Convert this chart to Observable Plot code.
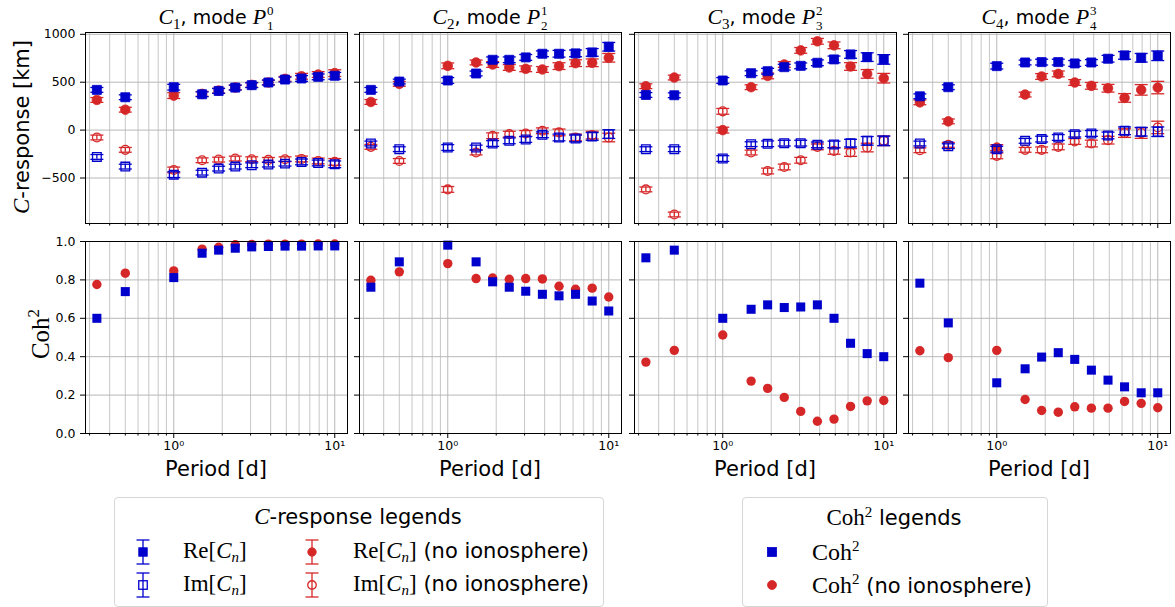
<!DOCTYPE html>
<html><head><meta charset="utf-8">
<script src="https://cdn.jsdelivr.net/npm/d3@7"></script>
<script src="https://cdn.jsdelivr.net/npm/@observablehq/plot@0.6"></script>
<style>
body{margin:0;background:#fff;}
#fig{position:relative;width:1175px;height:607px;overflow:hidden;font-family:"DejaVu Sans",sans-serif;color:#000;background:#fff;}
.abs{position:absolute;white-space:nowrap;}
.m{font-family:"Liberation Serif","Times New Roman",serif;}
.it{font-style:italic;}
.sub{font-family:"Liberation Serif",serif;font-size:15px;vertical-align:-5px;}
.ss{display:inline-block;vertical-align:-6px;font-family:"Liberation Serif",serif;font-size:13px;line-height:15px;margin-left:1px;}
.ss span{display:block;}
.title{font-size:19px;line-height:24px;text-align:center;width:262px;}
.title .m{font-size:22px;}
.lgbox{border:1px solid #d6d6d6;border-radius:4px;box-sizing:border-box;}
.lgt{font-size:21px;}
.lge{font-size:21px;}
.lge .m{font-size:23px;}
</style></head><body><div id="fig"></div>
<script>
// ---------------- data ----------------
const periods = [0.333, 0.5, 1, 1.5, 1.9, 2.41, 3.05, 3.87, 4.91, 6.22, 7.89, 10];
const titleIndex = ["1", "2", "3", "4"];
const modeOrder = ["0", "1", "2", "3"];
const xMajorTicks = [1, 10];
const xMajorLabels = ["10⁰", "10¹"];
const xMinorTicks = [0.3, 0.4, 0.5, 0.6, 0.7, 0.8, 0.9, 2, 3, 4, 5, 6, 7, 8, 9];
const yTicksC = [-500, 0, 500, 1000];
const yTicksCoh = [0, 0.2, 0.4, 0.6, 0.8, 1.0];

const reC1 = [420, 343, 448, 374, 409, 444, 469, 497, 528, 539, 556, 567];
const reC1NoIono = [315, 213, 360, 378, 412, 445, 472, 497, 535, 562, 580, 595];
const imC1 = [-280, -381, -465, -444, -402, -381, -367, -360, -350, -332, -343, -357];
const imC1NoIono = [-77, -206, -416, -315, -308, -297, -304, -311, -304, -301, -322, -332];
const errC1 = [25, 25, 30, 25, 25, 25, 25, 25, 25, 30, 30, 35];
const errC1NoIono = [25, 25, 30, 25, 25, 25, 25, 25, 25, 30, 30, 35];

const reC2 = [420, 507, 518, 591, 734, 734, 759, 797, 797, 801, 811, 870];
const reC2NoIono = [294, 483, 671, 706, 685, 654, 640, 633, 668, 699, 703, 755];
const imC2 = [-140, -199, -182, -182, -140, -112, -98, -49, -77, -87, -66, -42];
const imC2NoIono = [-175, -322, -619, -234, -59, -42, -35, -7, -24, -77, -52, -77];
const errC2 = [25, 25, 30, 25, 30, 30, 30, 30, 35, 35, 40, 45];
const errC2NoIono = [25, 25, 30, 25, 30, 30, 30, 30, 35, 35, 40, 45];

const reC3 = [367, 364, 518, 594, 615, 657, 671, 703, 738, 790, 762, 738];
const reC3NoIono = [458, 549, 0, 448, 566, 685, 832, 927, 885, 664, 587, 542];
const imC3 = [-199, -199, -297, -147, -143, -136, -136, -154, -150, -136, -112, -112];
const imC3NoIono = [-619, -881, 196, -234, -427, -385, -315, -175, -217, -234, -182, -112];
const errC3 = [25, 25, 30, 25, 30, 30, 30, 30, 35, 40, 45, 50];
const errC3NoIono = [25, 25, 30, 25, 30, 30, 30, 30, 35, 40, 45, 50];

const reC4 = [353, 448, 668, 706, 710, 710, 696, 706, 745, 780, 755, 776];
const reC4NoIono = [290, 91, -182, 371, 560, 587, 497, 462, 437, 336, 420, 444];
const imC4 = [-140, -168, -199, -112, -94, -77, -42, -35, -56, -7, -17, -17];
const imC4NoIono = [-210, -154, -269, -206, -206, -175, -119, -140, -105, -31, -31, 28];
const errC4 = [25, 25, 30, 25, 30, 30, 30, 30, 35, 40, 45, 50];
const errC4NoIono = [25, 25, 30, 25, 30, 30, 30, 35, 40, 45, 55, 65];

const cohC1 = [0.600, 0.739, 0.812, 0.939, 0.955, 0.965, 0.972, 0.974, 0.976, 0.976, 0.977, 0.977];
const cohC1NoIono = [0.776, 0.835, 0.847, 0.960, 0.970, 0.983, 0.985, 0.986, 0.986, 0.986, 0.987, 0.987];
const cohC2 = [0.762, 0.894, 0.981, 0.894, 0.790, 0.762, 0.741, 0.725, 0.717, 0.725, 0.690, 0.638];
const cohC2NoIono = [0.798, 0.842, 0.885, 0.807, 0.810, 0.803, 0.807, 0.805, 0.767, 0.751, 0.757, 0.711];
const cohC3 = [0.915, 0.955, 0.600, 0.647, 0.670, 0.656, 0.659, 0.670, 0.600, 0.470, 0.416, 0.400];
const cohC3NoIono = [0.372, 0.433, 0.513, 0.273, 0.235, 0.188, 0.115, 0.064, 0.075, 0.141, 0.170, 0.172];
const cohC4 = [0.783, 0.576, 0.264, 0.337, 0.398, 0.421, 0.386, 0.330, 0.278, 0.243, 0.212, 0.212];
const cohC4NoIono = [0.431, 0.395, 0.433, 0.177, 0.120, 0.111, 0.139, 0.132, 0.132, 0.167, 0.157, 0.134];

const reAll = [reC1, reC2, reC3, reC4];
const reNoAll = [reC1NoIono, reC2NoIono, reC3NoIono, reC4NoIono];
const imAll = [imC1, imC2, imC3, imC4];
const imNoAll = [imC1NoIono, imC2NoIono, imC3NoIono, imC4NoIono];
const errAll = [errC1, errC2, errC3, errC4];
const errNoAll = [errC1NoIono, errC2NoIono, errC3NoIono, errC4NoIono];
const cohAll = [cohC1, cohC2, cohC3, cohC4];
const cohNoAll = [cohC1NoIono, cohC2NoIono, cohC3NoIono, cohC4NoIono];

// ---------------- style / layout ----------------
const BLUE = "#0000cc";
const RED = "#d62728";
const GRID = "#c6c6c6";
const fig = document.getElementById("fig");
const PW = 262;
const lefts = [85, 359, 634, 908];
const ML = 50, MR = 10, MT = 8, MB = 32;
const rowTop = [31.7, 240.5];
const rowH = [191, 192];
const capSym = {draw(ctx) { ctx.moveTo(-6.5, 0); ctx.lineTo(6.5, 0); }};
const fmtC = d => d < 0 ? "\u2212" + Math.abs(d) : String(d);

function errMarks(data, yKey, eKey, color, symbol, filled, r) {
  return [
    Plot.ruleX(data, {x: "p", y1: d => d[yKey] - d[eKey], y2: d => d[yKey] + d[eKey], stroke: color, strokeWidth: 1.3}),
    Plot.dot(data, {x: "p", y: d => d[yKey] - d[eKey], symbol: capSym, fill: "none", stroke: color, strokeWidth: 1.3}),
    Plot.dot(data, {x: "p", y: d => d[yKey] + d[eKey], symbol: capSym, fill: "none", stroke: color, strokeWidth: 1.3}),
    Plot.dot(data, {x: "p", y: yKey, symbol, r,
      fill: filled ? color : "none", stroke: color, strokeWidth: filled ? 0.8 : 1.3})
  ];
}

function panel(i, row) {
  const isTop = row === 0;
  const data = periods.map((p, k) => ({
    p,
    re: reAll[i][k], im: imAll[i][k], e: errAll[i][k],
    ren: reNoAll[i][k], imn: imNoAll[i][k], en: errNoAll[i][k],
    coh: cohAll[i][k], cohn: cohNoAll[i][k]
  }));
  const yTicks = isTop ? yTicksC : yTicksCoh;
  const marks = [
    Plot.gridX(xMinorTicks, {stroke: GRID, strokeOpacity: 1, strokeWidth: 1}),
    Plot.gridX(xMajorTicks, {stroke: "#b8b8b8", strokeOpacity: 1, strokeWidth: 1}),
    Plot.gridY(yTicks, {stroke: "#b8b8b8", strokeOpacity: 1, strokeWidth: 1})
  ];
  if (isTop) {
    marks.push(...errMarks(data, "ren", "en", RED, "circle", true, 4.8));
    marks.push(...errMarks(data, "imn", "en", RED, "circle", false, 4.4));
    marks.push(...errMarks(data, "re", "e", BLUE, "square", true, 5.1));
    marks.push(...errMarks(data, "im", "e", BLUE, "square", false, 4.9));
  } else {
    marks.push(Plot.dot(data, {x: "p", y: "cohn", symbol: "circle", r: 4.7, fill: RED, stroke: "none"}));
    marks.push(Plot.dot(data, {x: "p", y: "coh", symbol: "square", r: 5.1, fill: BLUE, stroke: "none"}));
  }
  marks.push(Plot.axisX({ticks: xMajorTicks, tickSize: 5, tickPadding: 3, label: null, fontSize: 12.5,
    tickFormat: isTop ? () => "" : d => xMajorLabels[xMajorTicks.indexOf(d)]}));
  marks.push(Plot.axisX({ticks: xMinorTicks, tickSize: 2.5, label: null, tickFormat: () => ""}));
  marks.push(Plot.axisY({ticks: yTicks, tickSize: 5, tickPadding: 5, label: null, fontSize: 12.5,
    tickFormat: i === 0 ? (isTop ? fmtC : d => d.toFixed(1)) : () => ""}));
  marks.push(Plot.frame({stroke: "black", strokeWidth: 1}));
  const svg = Plot.plot({
    width: ML + PW + MR, height: MT + rowH[row] + MB,
    marginLeft: ML, marginRight: MR, marginTop: MT, marginBottom: MB,
    x: {type: "log", domain: [0.283, 12.0], label: null},
    y: {domain: isTop ? [-975, 1019] : [0, 1], label: null},
    style: {position: "absolute", left: (lefts[i] - ML) + "px", top: (rowTop[row] - MT) + "px",
      background: "transparent", overflow: "visible", fontFamily: "DejaVu Sans, sans-serif",
      fontSize: "12.5px", color: "black", maxWidth: "none"},
    marks
  });
  fig.append(svg);
}

for (let row = 0; row < 2; row++) for (let i = 0; i < 4; i++) panel(i, row);

// ---------------- titles & labels ----------------
function addDiv(html, cls, css) {
  const d = document.createElement("div");
  d.className = "abs " + (cls || "");
  d.innerHTML = html;
  Object.assign(d.style, css);
  fig.append(d);
  return d;
}
for (let i = 0; i < 4; i++) {
  addDiv(`<span class="m it">C</span><span class="sub">${titleIndex[i]}</span>, mode <span class="m it">P</span><span class="ss"><span>${modeOrder[i]}</span><span>${titleIndex[i]}</span></span>`,
    "title", {left: lefts[i] + "px", top: "3px"});
  addDiv("Period [d]", "", {left: (lefts[i] + PW / 2) + "px", top: "469px", fontSize: "21px",
    transform: "translate(-50%,-50%)"});
}
addDiv(`<span class="m it" style="font-size:23px">C</span>-response [km]`, "",
  {left: "22px", top: "127px", fontSize: "21px", transform: "translate(-50%,-50%) rotate(-90deg)"});
addDiv(`Coh<sup style="font-size:17px">2</sup>`, "m",
  {left: "37px", top: "334px", fontSize: "25px", lineHeight: "25px", transform: "translate(-50%,-50%) rotate(-90deg)"});

// ---------------- legends ----------------
addDiv("", "lgbox", {left: "114px", top: "497px", width: "490px", height: "110px"});
addDiv(`<span class="m it" style="font-size:23px">C</span>-response legends`, "lgt",
  {left: "358px", top: "517px", transform: "translate(-50%,-50%)"});
addDiv("", "lgbox", {left: "742px", top: "497px", width: "306px", height: "110px"});
addDiv(`<span class="m" style="font-size:23px">Coh<sup style="font-size:15px">2</sup></span> legends`, "lgt",
  {left: "894px", top: "517px", transform: "translate(-50%,-50%)"});

function legendMarker(cx, cy, color, sym, filled, errbar) {
  const svg = d3.create("svg").attr("width", 30).attr("height", 40)
    .style("position", "absolute").style("left", (cx - 15) + "px").style("top", (cy - 20) + "px");
  const g = svg.append("g").attr("transform", "translate(15,20)");
  if (errbar) {
    g.append("line").attr("x1", 0).attr("x2", 0).attr("y1", -12).attr("y2", 12).attr("stroke", color).attr("stroke-width", 1.3);
    g.append("line").attr("x1", -6.5).attr("x2", 6.5).attr("y1", -12).attr("y2", -12).attr("stroke", color).attr("stroke-width", 1.3);
    g.append("line").attr("x1", -6.5).attr("x2", 6.5).attr("y1", 12).attr("y2", 12).attr("stroke", color).attr("stroke-width", 1.3);
  }
  const s = errbar ? 8.5 : 9;
  if (sym === "square") {
    g.append("rect").attr("x", -s / 2).attr("y", -s / 2).attr("width", s).attr("height", s)
      .attr("fill", filled ? color : "none").attr("stroke", color).attr("stroke-width", filled ? 0.8 : 1.3);
  } else {
    g.append("circle").attr("r", s / 2).attr("fill", filled ? color : "none").attr("stroke", color)
      .attr("stroke-width", filled ? 0.8 : 1.3);
  }
  fig.append(svg.node());
}
const reLbl = `<span class="m">Re[<span class="it">C</span><span class="it" style="font-size:15px;vertical-align:-4px">n</span>]</span>`;
const imLbl = `<span class="m">Im[<span class="it">C</span><span class="it" style="font-size:15px;vertical-align:-4px">n</span>]</span>`;
const rowsY = [552, 585];
legendMarker(143, rowsY[0], BLUE, "square", true, true);
legendMarker(143, rowsY[1], BLUE, "square", false, true);
legendMarker(312, rowsY[0], RED, "circle", true, true);
legendMarker(312, rowsY[1], RED, "circle", false, true);
addDiv(reLbl, "lge", {left: "183px", top: rowsY[0] + "px", transform: "translateY(-50%)"});
addDiv(imLbl, "lge", {left: "183px", top: rowsY[1] + "px", transform: "translateY(-50%)"});
addDiv(reLbl + " (no ionosphere)", "lge", {left: "353px", top: rowsY[0] + "px", transform: "translateY(-50%)"});
addDiv(imLbl + " (no ionosphere)", "lge", {left: "353px", top: rowsY[1] + "px", transform: "translateY(-50%)"});

legendMarker(772, rowsY[0], BLUE, "square", true, false);
legendMarker(772, rowsY[1], RED, "circle", true, false);
const cohLbl = `<span class="m" style="font-size:24px">Coh<sup style="font-size:15px">2</sup></span>`;
addDiv(cohLbl, "lge", {left: "812px", top: rowsY[0] + "px", transform: "translateY(-50%)"});
addDiv(cohLbl + " (no ionosphere)", "lge", {left: "812px", top: rowsY[1] + "px", transform: "translateY(-50%)"});
</script></body></html>
